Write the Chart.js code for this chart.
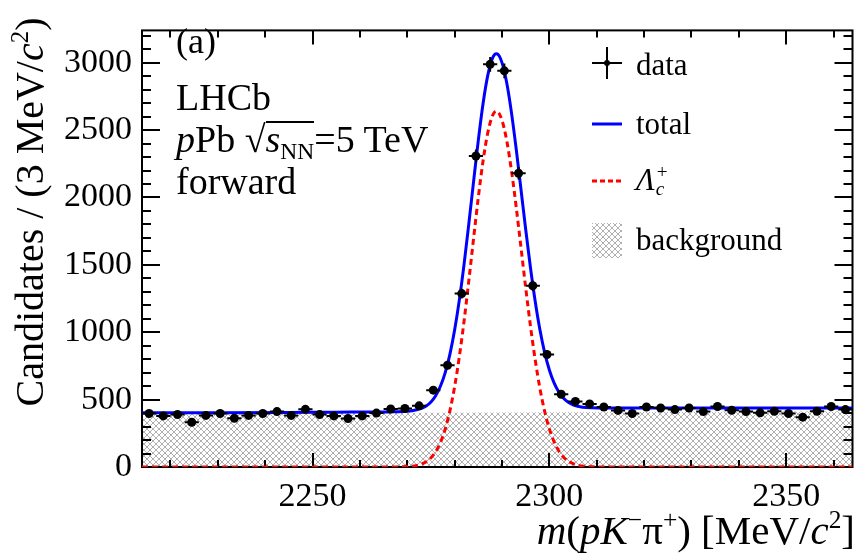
<!DOCTYPE html>
<html><head><meta charset="utf-8">
<script src="https://cdn.jsdelivr.net/npm/chart.js@4.4.1/dist/chart.umd.min.js"></script>
<style>
html,body{margin:0;padding:0;background:#fff;}
#wrap{position:relative;width:857px;height:556px;overflow:hidden;font-family:"Liberation Serif","Times New Roman",serif;color:#000;}
#c{position:absolute;left:0;top:0;}
.t{position:absolute;white-space:nowrap;line-height:1;}
.sup{font-size:0.62em;position:relative;top:-0.62em;}
.sub{font-size:0.62em;position:relative;top:0.28em;}
.ov{display:inline-block;line-height:0.8;border-top:2px solid #000;padding-top:1px;}
</style></head><body>
<div id="wrap">
<canvas id="c" width="857" height="556"></canvas>
<div class="t" style="left:176px;top:23px;font-size:36px">(a)</div>
<div class="t" style="left:176px;top:78px;font-size:38px">LHCb</div>
<div class="t" style="left:176px;top:120px;font-size:38px"><i>p</i>Pb <span>√</span><span class="ov"><i>s</i><span class="sub">NN</span></span>=5 TeV</div>
<div class="t" style="left:176px;top:162px;font-size:38px">forward</div>

<svg style="position:absolute;left:0;top:0" width="857" height="556">
  <defs>
    <pattern id="hp" width="6" height="6" patternUnits="userSpaceOnUse">
      <path d="M0,0 L6,6 M6,0 L0,6" stroke="#b0b0b0" stroke-width="1"/>
    </pattern>
  </defs>
  <line x1="592" y1="63" x2="622" y2="63" stroke="#000" stroke-width="2"/>
  <line x1="607" y1="47" x2="607" y2="79" stroke="#000" stroke-width="2"/>
  <circle cx="607" cy="63" r="3" fill="#000"/>
  <line x1="592" y1="124" x2="622" y2="124" stroke="#0000ff" stroke-width="3"/>
  <line x1="592" y1="181" x2="622" y2="181" stroke="#ff0000" stroke-width="3" stroke-dasharray="5,3"/>
  <rect x="592" y="223" width="30" height="35" fill="url(#hp)"/>
</svg>
<div class="t" style="left:636px;top:49px;font-size:31px">data</div>
<div class="t" style="left:636px;top:108px;font-size:31px">total</div>
<div class="t" style="left:636px;top:164px;font-size:31px"><i>Λ</i><span style="display:inline-block;width:16px;position:relative;height:1em;vertical-align:top"><span style="position:absolute;left:2px;top:-2px;font-size:0.62em">+</span><span style="position:absolute;left:1px;top:15px;font-size:0.62em"><i>c</i></span></span></div>
<div class="t" style="left:636px;top:224px;font-size:31px">background</div>

<div class="t" style="right:2px;top:510px;font-size:41px"><i>m</i>(<i>pK</i><span class="sup">−</span>π<span class="sup">+</span>) [MeV/<i>c</i><span class="sup">2</span>]</div>
<div class="t" style="left:30px;top:212px;font-size:40px;transform:translate(-50%,-50%) rotate(-90deg)">Candidates / (3 MeV/<i>c</i><span class="sup">2</span>)</div>
</div>
<script>
// ---- data ----
const binCenters = [2215.5,2218.5,2221.5,2224.5,2227.5,2230.5,2233.5,2236.5,2239.5,2242.5,
  2245.5,2248.5,2251.5,2254.5,2257.5,2260.5,2263.5,2266.5,2269.5,2272.5,
  2275.5,2278.5,2281.5,2284.5,2287.5,2290.5,2293.5,2296.5,2299.5,2302.5,
  2305.5,2308.5,2311.5,2314.5,2317.5,2320.5,2323.5,2326.5,2329.5,2332.5,
  2335.5,2338.5,2341.5,2344.5,2347.5,2350.5,2353.5,2356.5,2359.5,2362.5];
const dataCounts = [397,379,390,332,383,397,362,383,397,411,
  383,428,390,379,360,379,400,430,434,454,
  570,755,1287,2308,2988,2940,2180,1345,835,540,
  487,468,445,420,397,445,438,426,438,411,
  449,421,411,402,414,397,370,414,449,426];
const fitX = [2214,2230,2245,2255,2262,2266,2268,
  2270,2271,2272,2273,2274,2275,2276,2277,2278,2279,2280,2281,2282,2283,2284,2285,2286,2287,2288,
  2288.8,
  2289,2290,2291,2292,2293,2294,2295,2296,2297,2298,2299,2300,2301,2302,2303,2304,2305,2306,2307,
  2309,2312,2325,2340,2364];
const totalFit = [402,403,405,407,408,409,410,
  414,418,425,435,453,483,529,599,698,836,1016,1240,1506,1805,2118,2424,2696,2906,3034,
  3067,
  3066,3001,2851,2630,2360,2063,1764,1482,1232,1020,850,720,624,556,510,480,462,451,444,
  439,437,437,437,438];
const signalFit = [0,0,0,0,0,0,1,
  3,6,12,22,39,68,113,182,280,417,596,820,1085,1383,1695,2000,2271,2481,2608,
  2640,
  2639,2573,2422,2200,1929,1632,1332,1049,798,585,414,283,187,119,73,43,25,14,7,
  2,0,0,0,0];
const bkgX = [2214,2289,2364];
const bkgFit = [396,405,414];
const xTickValues = [2250,2300,2350];
const yTickValues = [0,500,1000,1500,2000,2500,3000];
const binHalfWidth = 1.5;

const FONT = "'Liberation Serif','Times New Roman',serif";
const canvas = document.getElementById('c');
const ctx0 = canvas.getContext('2d');
function makeHatch(){
  const p = document.createElement('canvas'); p.width=6; p.height=6;
  const g = p.getContext('2d');
  g.strokeStyle='#b0b0b0'; g.lineWidth=1;
  g.beginPath(); g.moveTo(0,0); g.lineTo(6,6); g.moveTo(6,0); g.lineTo(0,6); g.stroke();
  return ctx0.createPattern(p,'repeat');
}
const pts = (xs, ys) => xs.map((x,i)=>({x, y: ys[i]}));

const framePlugin = {
  id:'frame',
  afterDatasetDraw(chart, args){
    if (args.index !== 3) return;
    const {ctx, chartArea:a, scales:{x, y}} = chart;
    ctx.save();
    ctx.strokeStyle='#000';
    ctx.lineWidth=2;
    ctx.beginPath();
    for (let v=2220; v<=2360; v+=10){
      const px = Math.round(x.getPixelForValue(v));
      const len = (v%50===0) ? 14 : 7;
      ctx.moveTo(px, a.bottom); ctx.lineTo(px, a.bottom-len);
      ctx.moveTo(px, a.top); ctx.lineTo(px, a.top+len);
    }
    for (let v=100; v<=3200; v+=100){
      const py = Math.round(y.getPixelForValue(v));
      const len = (v%500===0) ? 18 : 9;
      ctx.moveTo(a.left, py); ctx.lineTo(a.left+len, py);
      ctx.moveTo(a.right, py); ctx.lineTo(a.right-len, py);
    }
    ctx.stroke();
    ctx.strokeRect(a.left, a.top, a.right-a.left, a.bottom-a.top);
    ctx.restore();
  },
  afterDatasetsDraw(chart){
    const {ctx, scales:{x, y}} = chart;
    ctx.save();
    ctx.strokeStyle='#000'; ctx.lineWidth=2;
    ctx.beginPath();
    binCenters.forEach((c,i)=>{
      const n = dataCounts[i], e = Math.sqrt(n);
      const px = x.getPixelForValue(c), py = y.getPixelForValue(n);
      ctx.moveTo(x.getPixelForValue(c-binHalfWidth), py);
      ctx.lineTo(x.getPixelForValue(c+binHalfWidth), py);
      ctx.moveTo(px, y.getPixelForValue(n-e));
      ctx.lineTo(px, y.getPixelForValue(n+e));
    });
    ctx.stroke();
    ctx.restore();
  }
};

function draw(){
  new Chart(canvas, {
    type:'scatter',
    data:{
      datasets:[
        {label:'data', data: pts(binCenters, dataCounts), pointRadius:4.5, pointBackgroundColor:'#000',
          pointBorderColor:'#000', pointBorderWidth:0, showLine:false, order:1},
        {label:'total', type:'line', data: pts(fitX, totalFit), borderColor:'#0000ff', borderWidth:3,
          pointRadius:0, cubicInterpolationMode:'monotone', fill:false, order:2},
        {label:'signal', type:'line', data: pts(fitX, signalFit), borderColor:'#ff0000', borderWidth:3,
          borderDash:[6,4], pointRadius:0, cubicInterpolationMode:'monotone', fill:false, order:3},
        {label:'background', type:'line', data: pts(bkgX, bkgFit), borderWidth:0, borderColor:'rgba(0,0,0,0)',
          backgroundColor: makeHatch(), fill:'origin', pointRadius:0, order:4}
      ]
    },
    options:{
      responsive:false, animation:false, devicePixelRatio:1,
      layout:{padding:{top:8, right:2, left:0, bottom:0}},
      plugins:{legend:{display:false}, tooltip:{enabled:false}},
      scales:{
        x:{type:'linear', min:2214, max:2364,
          grid:{display:false, drawTicks:false}, border:{display:false},
          ticks:{color:'#000', font:{family:FONT, size:34}, padding:10, maxRotation:0,
            callback: v => String(v)},
          afterBuildTicks: s => { s.ticks = xTickValues.map(v=>({value:v})); },
          afterFit: s => { s.height = 89; }
        },
        y:{type:'linear', min:0, max:3240,
          grid:{display:false, drawTicks:false}, border:{display:false},
          ticks:{color:'#000', font:{family:FONT, size:34}, padding:10,
            callback: v => String(v)},
          afterBuildTicks: s => { s.ticks = yTickValues.map(v=>({value:v})); },
          afterFit: s => { s.width = 142; }
        }
      }
    },
    plugins:[framePlugin]
  });
}
if (document.fonts && document.fonts.load) {
  Promise.all([document.fonts.load("34px 'Liberation Serif'"), document.fonts.load("italic 34px 'Liberation Serif'")])
    .then(draw, draw);
} else { draw(); }
</script>
</body></html>
